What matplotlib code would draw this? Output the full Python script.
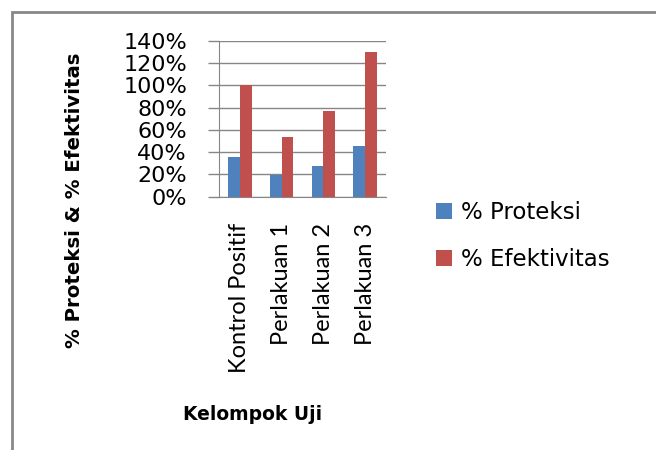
import numpy as np
import matplotlib.pyplot as plt
from matplotlib.patches import Rectangle
from matplotlib.ticker import FuncFormatter

kelompok = ['Kontrol Positif', 'Perlakuan 1', 'Perlakuan 2', 'Perlakuan 3']
proteksi = [0.355, 0.198, 0.273, 0.459]
efektivitas = [1.00, 0.54, 0.77, 1.305]
yticks = [0, 0.2, 0.4, 0.6, 0.8, 1.0, 1.2, 1.4]

BLUE = '#4F81BD'
RED = '#C0504D'
GRID = '#868686'

fig = plt.figure(figsize=(6.56, 4.5), dpi=100)
ax = fig.add_axes([219 / 656, 1 - 196.7 / 450, 167 / 656, 155.7 / 450])

x = np.arange(len(kelompok))
w = 0.28
ax.bar(x - w / 2, proteksi, w, color=BLUE, label='% Proteksi', zorder=3)
ax.bar(x + w / 2, efektivitas, w, color=RED, label='% Efektivitas', zorder=3)

ax.set_xlim(-0.5, len(kelompok) - 0.5)
ax.set_ylim(0, 1.4)
ax.set_yticks(yticks)
ax.yaxis.set_major_formatter(FuncFormatter(lambda v, p: '%d%%' % round(v * 100)))
ax.grid(axis='y', color=GRID, linewidth=1, zorder=0)

for s in ['top', 'right']:
    ax.spines[s].set_visible(False)
ax.spines['left'].set_color(GRID)
ax.spines['bottom'].set_color(GRID)
ax.spines['left'].set_zorder(4)

ax.tick_params(axis='y', length=8, width=1, color=GRID, pad=15,
               labelsize=16, labelcolor='black')
ax.set_xticks(x)
ax.set_xticklabels(kelompok, rotation=90, fontsize=17, fontfamily='Lato')
ax.tick_params(axis='x', length=0, pad=19)

ax.set_xlabel('Kelompok Uji', fontsize=13.5, fontweight='bold')
ax.xaxis.set_label_coords((253 - 219) / 167, (196.7 - 414) / 155.7)
ax.set_ylabel('% Proteksi & % Efektivitas', fontsize=14.2, fontweight='bold')
ax.yaxis.set_label_coords((75 - 219) / 167, (196.7 - 200) / 155.7)
ax.yaxis.label.set_verticalalignment('center')
ax.xaxis.label.set_verticalalignment('center')

fig.legend(loc='center left', bbox_to_anchor=(436 / 656, 1 - 236 / 450),
           frameon=False, fontsize=16.5, handlelength=0.7, handleheight=0.65,
           handletextpad=0.4, labelspacing=1.05, borderpad=0,
           borderaxespad=0)

fig.patches.append(Rectangle((12 / 656, -0.1), 1.2, 1 - 12 / 450 + 0.1,
                             transform=fig.transFigure, fill=False,
                             edgecolor='#888888', linewidth=2, clip_on=False))

fig.savefig('out.png', dpi=100)
